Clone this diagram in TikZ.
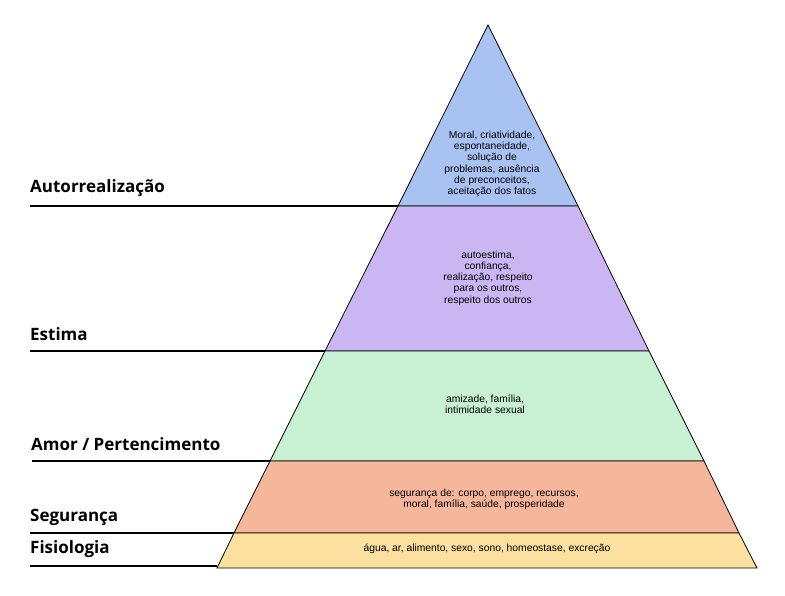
\documentclass[tikz,border=0pt]{standalone}
\usepackage{fontspec}
\setmainfont{Liberation Sans}
\newfontfamily\labelfont{Open Sans}
\usetikzlibrary{positioning}
\definecolor{topblue}{RGB}{168,194,242}
\definecolor{estpurple}{RGB}{202,182,243}
\definecolor{amorgreen}{RGB}{200,241,212}
\definecolor{segsalmon}{RGB}{246,182,156}
\definecolor{fisyellow}{RGB}{251,224,160}

\begin{document}
\begin{tikzpicture}[x=1pt, y=-1pt,
    level/.style={draw=black, line width=0.8pt},
    leveltext/.style={align=center, font=\fontsize{10.3}{11.3}\selectfont, inner sep=0pt},
    levelname/.style={anchor=south west, font=\labelfont\bfseries\fontsize{17}{20}\selectfont, inner sep=0pt},
    rule/.style={line width=2.8pt}]
  \useasboundingbox (0,0) rectangle (785,595);

  % pyramid corners
  \coordinate (apex) at (488,25);
  \coordinate (l1) at (398,206); \coordinate (r1) at (578,206);
  \coordinate (l2) at (325,351); \coordinate (r2) at (649,351);
  \coordinate (l3) at (270,461); \coordinate (r3) at (704,461);
  \coordinate (l4) at (234,533); \coordinate (r4) at (739,533);
  \coordinate (l5) at (217,568); \coordinate (r5) at (757,568);

  \filldraw[level, fill=topblue] (apex) -- (r1) -- (l1) -- cycle;
  \filldraw[level, fill=estpurple] (l1) -- (r1) -- (r2) -- (l2) -- cycle;
  \filldraw[level, fill=amorgreen] (l2) -- (r2) -- (r3) -- (l3) -- cycle;
  \filldraw[level, fill=segsalmon] (l3) -- (r3) -- (r4) -- (l4) -- cycle;
  \filldraw[level, fill=fisyellow] (l4) -- (r4) -- (r5) -- (l5) -- cycle;

  % texts inside
  \node[leveltext] (toptext) at (492,164) {Moral, criatividade,\\espontaneidade,\\solução de\\problemas, ausência\\de preconceitos,\\aceitação dos fatos};
  \node[leveltext] (esttext) at (488,278) {autoestima,\\confiança,\\realização, respeito\\para os outros,\\respeito dos outros};
  \node[leveltext] (amortext) at (485,404) {amizade, família,\\intimidade sexual};
  \node[leveltext] (segtext) at (484,499) {segurança de: corpo, emprego, recursos,\\moral, família, saúde, prosperidade};
  \node[leveltext] (fistext) at (487,549) {água, ar, alimento, sexo, sono, homeostase, excreção};

  % level names
  \node[levelname] (autoname) at (30,197) {Autorrealização};
  \node[levelname] (estname) at (30,341) {Estima};
  \node[levelname] (amorname) at (31,451) {Amor / Pertencimento};
  \node[levelname] (segname) at (30,526) {Segurança};
  \node[levelname] (fisname) at (30,558) {Fisiologia};

  \coordinate (a0) at (30,206); \coordinate (e0) at (30,351);
  \coordinate (m0) at (32,461); \coordinate (s0) at (30,533);
  \coordinate (f0) at (30,566);
  \draw[rule] (a0) -- (l1);
  \draw[rule] (e0) -- (l2);
  \draw[rule] (m0) -- (l3);
  \draw[rule] (s0) -- (l4);
  \draw[rule] (f0) -- (217,566);
\end{tikzpicture}
\end{document}
